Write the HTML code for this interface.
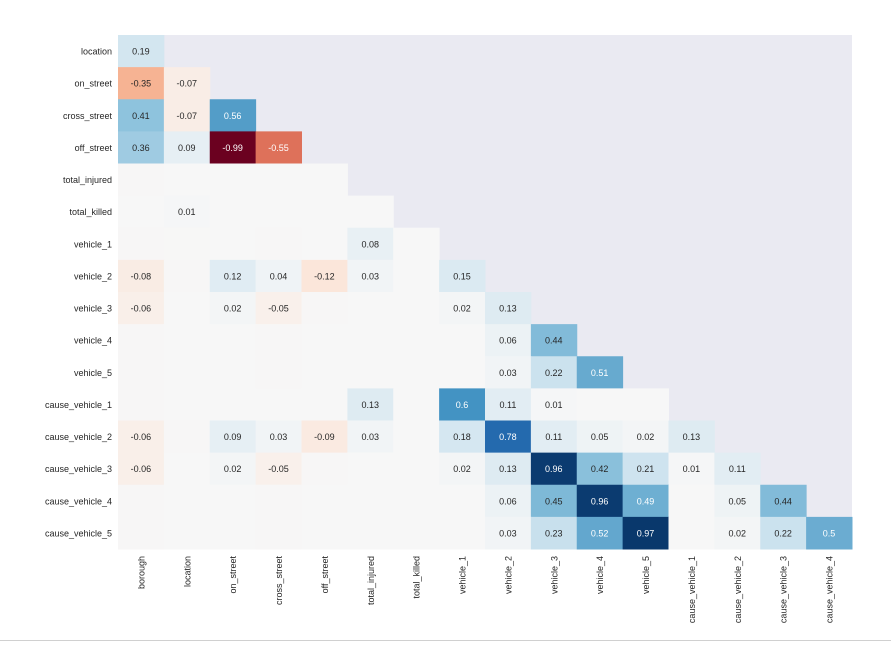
<!DOCTYPE html>
<html><head><meta charset="utf-8"><style>
body{margin:0;background:#fff;font-family:"Liberation Sans",Arial,sans-serif;}
svg text{font-family:"Liberation Sans",Arial,sans-serif;}
</style></head><body>
<svg id="chart" width="891" height="645" xmlns="http://www.w3.org/2000/svg">
<rect x="0" y="0" width="891" height="645" fill="#fff"/>
<line x1="0" y1="640.5" x2="891" y2="640.5" stroke="#d0d0d0" stroke-width="1"/>
<g id="plot"></g>
</svg>
<script>
const rowLabels=["location","on_street","cross_street","off_street","total_injured","total_killed","vehicle_1","vehicle_2","vehicle_3","vehicle_4","vehicle_5","cause_vehicle_1","cause_vehicle_2","cause_vehicle_3","cause_vehicle_4","cause_vehicle_5"];
const colLabels=["borough","location","on_street","cross_street","off_street","total_injured","total_killed","vehicle_1","vehicle_2","vehicle_3","vehicle_4","vehicle_5","cause_vehicle_1","cause_vehicle_2","cause_vehicle_3","cause_vehicle_4"];
const row0=[0.19];
const row1=[-0.35,-0.07];
const row2=[0.41,-0.07,0.56];
const row3=[0.36,0.09,-0.99,-0.55];
const row4=[-0.004,0.002,0,-0.002,0.002];
const row5=[0.002,0.01,0,0,0,0];
const row6=[-0.004,-0.003,0,-0.004,0,0.08,0];
const row7=[-0.08,-0.004,0.12,0.04,-0.12,0.03,0,0.15];
const row8=[-0.06,0,0.02,-0.05,-0.004,0,0,0.02,0.13];
const row9=[-0.004,0,0.002,-0.004,0,0,0,0,0.06,0.44];
const row10=[-0.004,0,0.002,-0.004,0,0,0,0,0.03,0.22,0.51];
const row11=[-0.004,0,0,0,0,0.13,0,0.6,0.11,0.01,0,0];
const row12=[-0.06,-0.004,0.09,0.03,-0.09,0.03,0,0.18,0.78,0.11,0.05,0.02,0.13];
const row13=[-0.06,0,0.02,-0.05,-0.004,0,0,0.02,0.13,0.96,0.42,0.21,0.01,0.11];
const row14=[-0.004,0,0,-0.004,0,0,0,0,0.06,0.45,0.96,0.49,0,0.05,0.44];
const row15=[-0.004,0,0,-0.004,0,0,0,0,0.03,0.23,0.52,0.97,0,0.02,0.22,0.5];
const matrix=[row0,row1,row2,row3,row4,row5,row6,row7,row8,row9,row10,row11,row12,row13,row14,row15];

const X0=118,X1=852,Y0=35,Y1=549;
const cw=(X1-X0)/colLabels.length, ch=(Y1-Y0)/rowLabels.length;
const xPos=i=>X0+i*cw, yPos=j=>Y0+j*ch;
const stops=["#67001f","#b2182b","#d6604d","#f4a582","#fddbc7","#f7f7f7","#d1e5f0","#92c5de","#4393c3","#2166ac","#053061"];
function hex(h){return [1,3,5].map(k=>parseInt(h.substr(k,2),16));}
function color(v){
  v=Math.max(-1,Math.min(1,v));
  const t=(v+1)/2*10, i=Math.min(9,Math.floor(t)), f=t-i;
  const a=hex(stops[i]), b=hex(stops[i+1]);
  return a.map((c,k)=>Math.round(c+(b[k]-c)*f));
}
function lum(rgb){return rgb.map(c=>{c/=255;return c<=0.03928?c/12.92:Math.pow((c+0.055)/1.055,2.4);}).reduce((s,c,k)=>s+c*[0.2126,0.7152,0.0722][k],0);}
const NS="http://www.w3.org/2000/svg";
const g=document.getElementById("plot");
function mk(tag,attrs){const e=document.createElementNS(NS,tag);for(const k in attrs)e.setAttribute(k,attrs[k]);g.appendChild(e);return e;}
const bg=mk("rect",{x:X0,y:Y0,width:X1-X0,height:Y1-Y0,fill:"#eaeaf2"});


matrix.forEach((row,j)=>{
  row.forEach((v,i)=>{
    const rgb=color(v);
    const r=mk("rect",{x:xPos(i),y:yPos(j),width:cw+0.5,height:ch+0.5,fill:`rgb(${rgb.join(",")})`});
    
    
    const rv=Math.round(v*100)/100;
    if(Math.abs(rv)>=0.01){
      const t=mk("text",{x:xPos(i)+cw/2,y:yPos(j)+ch/2+3.5,"text-anchor":"middle","font-size":"9",fill:lum(rgb)<0.408?"#fff":"#262626"});
      t.textContent=String(rv);
      
      
    }
  });
});
rowLabels.forEach((l,j)=>{
  const t=mk("text",{x:X0-6,y:yPos(j)+ch/2+3.5,"text-anchor":"end","font-size":"9",fill:"#262626"});
  t.textContent=l;
  
  
});
colLabels.forEach((l,i)=>{
  const cx=xPos(i)+cw/2+3.5, cy=Y1+7;
  const t=mk("text",{x:cx,y:cy,"text-anchor":"end","font-size":"9",fill:"#262626",transform:`rotate(-90 ${cx} ${cy})`});
  t.textContent=l;
  
  
});
</script>
</body></html>
